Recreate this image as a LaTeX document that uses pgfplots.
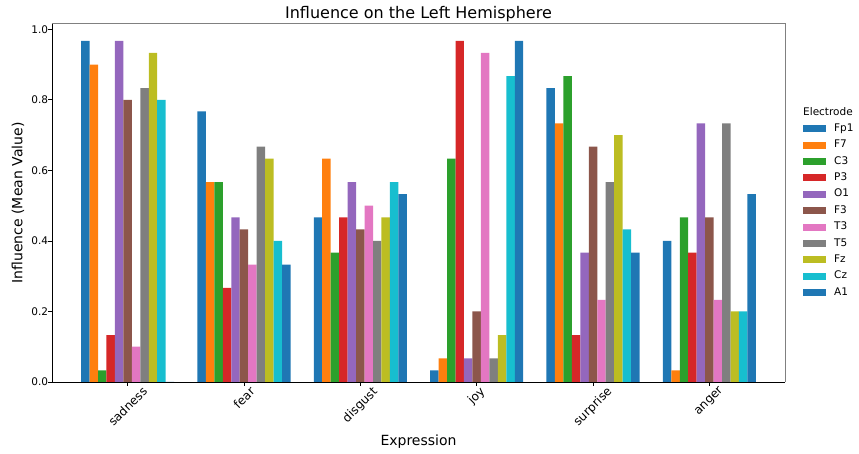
\documentclass[border=0pt]{standalone}
\usepackage{pgfplots}
\pgfplotsset{compat=1.18}
\usepackage{pgfplotstable}
\usepackage{fontspec}
\setmainfont{DejaVu Sans}

\definecolor{cA}{HTML}{1F77B4}
\definecolor{cB}{HTML}{FF7F0E}
\definecolor{cC}{HTML}{2CA02C}
\definecolor{cD}{HTML}{D62728}
\definecolor{cE}{HTML}{9467BD}
\definecolor{cF}{HTML}{8C564B}
\definecolor{cG}{HTML}{E377C2}
\definecolor{cH}{HTML}{7F7F7F}
\definecolor{cI}{HTML}{BCBD22}
\definecolor{cJ}{HTML}{17BECF}

\pgfplotstableread{
x Fp1 F7 C3 P3 O1 F3 T3 T5 Fz Cz A1
0 0.967 0.900 0.033 0.133 0.967 0.800 0.100 0.833 0.933 0.800 0.000
1 0.767 0.567 0.567 0.267 0.467 0.433 0.333 0.667 0.633 0.400 0.333
2 0.467 0.633 0.367 0.467 0.567 0.433 0.500 0.400 0.467 0.567 0.533
3 0.033 0.067 0.633 0.967 0.067 0.200 0.933 0.067 0.133 0.867 0.967
4 0.833 0.733 0.867 0.133 0.367 0.667 0.233 0.567 0.700 0.433 0.367
5 0.400 0.033 0.467 0.367 0.733 0.467 0.233 0.733 0.200 0.200 0.533
}\data

\def\w{0.0727273}

\begin{document}
\begin{tikzpicture}
\useasboundingbox (-52pt,-72pt) rectangle (807pt,382pt);
\begin{axis}[
  at={(0,0)}, anchor=south west,
  width=733pt, height=358pt, scale only axis,
  xmin=-0.65, xmax=5.65, ymin=0, ymax=1.015,
  axis x line*=bottom, axis y line*=left,
  axis line style={black, line width=0.8pt, -},
  clip=false,
  xtick={0,1,2,3,4,5},
  xticklabels={\rotatebox{45}{sadness},\rotatebox{45}{fear},\rotatebox{45}{disgust},\rotatebox{45}{joy},\rotatebox{45}{surprise},\rotatebox{45}{anger}},
  ytick={0,0.2,0.4,0.6,0.8,1},
  yticklabels={0.0,0.2,0.4,0.6,0.8,1.0},
  tick align=outside,
  major tick length=3.7pt,
  tick style={black, line width=0.8pt},
  xticklabel style={anchor=north, inner sep=0pt, font=\fontsize{12}{14}\selectfont},
  yticklabel style={anchor=east, inner sep=0pt, font=\fontsize{10.5}{12}\selectfont},
  xlabel={Expression},
  ylabel={Influence (Mean Value)},
  xlabel style={at={(axis description cs:0.5,-0.1676)}, anchor=center, font=\fontsize{14}{16}\selectfont},
  ylabel style={at={(axis description cs:-0.0464,0.5)}, anchor=center, font=\fontsize{14}{16}\selectfont},
  title={Influence on the Left Hemisphere},
  every axis title shift=0pt,
  title style={at={(axis description cs:0.5,1.029)}, anchor=center, font=\fontsize{16}{19}\selectfont},
  legend style={at={(rel axis cs:1.02456,0.7218)}, anchor=north west, draw=none, fill=none,
    inner sep=0pt, row sep=6.4pt,
    nodes={inner sep=0pt, text height=7.5pt, text depth=2.5pt, anchor=west, font=\fontsize{10.5}{12}\selectfont},
    /tikz/every odd column/.append style={column sep=8pt}},
  legend cell align=left,
  legend image code/.code={\fill[#1] (0pt,-3.5pt) rectangle (23pt,3.5pt);},
  barstyle/.style={ybar, bar width=\w, bar shift=0pt, draw=none},
]
\addplot[barstyle, fill=cA] table[x expr=\thisrow{x}-5*\w, y=Fp1]{\data};
\addplot[barstyle, fill=cB] table[x expr=\thisrow{x}-4*\w, y=F7]{\data};
\addplot[barstyle, fill=cC] table[x expr=\thisrow{x}-3*\w, y=C3]{\data};
\addplot[barstyle, fill=cD] table[x expr=\thisrow{x}-2*\w, y=P3]{\data};
\addplot[barstyle, fill=cE] table[x expr=\thisrow{x}-1*\w, y=O1]{\data};
\addplot[barstyle, fill=cF] table[x expr=\thisrow{x}, y=F3]{\data};
\addplot[barstyle, fill=cG] table[x expr=\thisrow{x}+1*\w, y=T3]{\data};
\addplot[barstyle, fill=cH] table[x expr=\thisrow{x}+2*\w, y=T5]{\data};
\addplot[barstyle, fill=cI] table[x expr=\thisrow{x}+3*\w, y=Fz]{\data};
\addplot[barstyle, fill=cJ] table[x expr=\thisrow{x}+4*\w, y=Cz]{\data};
\addplot[barstyle, fill=cA] table[x expr=\thisrow{x}+5*\w, y=A1]{\data};
\legend{Fp1,F7,C3,P3,O1,F3,T3,T5,Fz,Cz,A1}
\draw[gray, line width=1pt] (rel axis cs:0,1) -- (rel axis cs:1,1) -- (rel axis cs:1,0);
\node[anchor=west, inner sep=0pt, font=\fontsize{10.5}{12}\selectfont] at (rel axis cs:1.02456,0.7542) {Electrode};
\end{axis}
\end{tikzpicture}
\end{document}
